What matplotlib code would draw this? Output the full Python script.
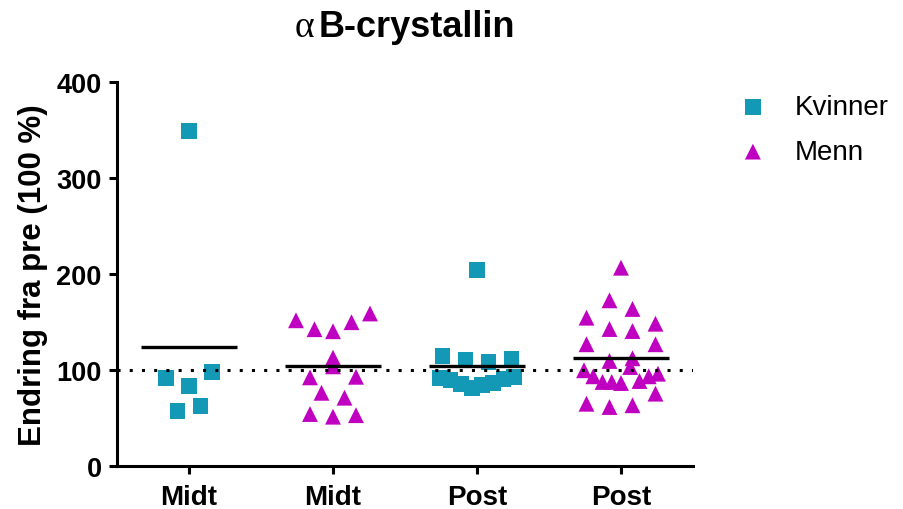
import matplotlib
matplotlib.use("Agg")
import matplotlib.pyplot as plt
import numpy as np

plt.rcParams['font.family'] = ['Liberation Sans', 'DejaVu Sans']

# values (% of pre), left to right within each row
kvinner_midt = [349.5, 91.4, 83.1, 98.3, 57.6, 62.5]
menn_midt = [151.9, 142.6, 140.5, 149.9, 159.0, 112.9, 92.4, 103.9, 93.0,
             76.3, 71.2, 54.2, 51.4, 53.0]
kvinner_post = [204.3, 114.7, 110.2, 108.7, 111.2, 92.0, 89.6, 85.2, 81.6,
                84.1, 86.2, 91.0, 93.1]
menn_post = [206.7, 172.7, 163.7, 154.6, 142.8, 140.7, 148.3, 126.9, 109.5,
             112.3, 126.9, 99.8, 93.5, 87.6, 87.6, 86.5, 103.2, 88.6, 93.5,
             96.2, 64.9, 61.5, 63.3, 75.4]

groups = [kvinner_midt, menn_midt, kvinner_post, menn_post]
kjonn = ['Kvinner', 'Menn', 'Kvinner', 'Menn']
xlabels = ['Midt', 'Midt', 'Post', 'Post']

teal = '#1399B5'
magenta = '#C000C0'
style = {'Kvinner': ('s', teal), 'Menn': ('^', magenta)}


def spread(vals, h, step, maxw):
    # prism-like scatter: bunch values into rows of height h, spread each row
    vals = np.asarray(vals)
    order = np.argsort(vals, kind='stable')
    rows = []
    for i in order:
        if rows and vals[i] - vals[rows[-1][0]] < h:
            rows[-1].append(i)
        else:
            rows.append([i])
    offs = np.zeros(len(vals))
    for row in rows:
        row = sorted(row)
        n = len(row)
        st = step
        if (n - 1) * st / 2 > maxw:
            st = 2 * maxw / (n - 1)
        for k, i in enumerate(row):
            offs[i] = (k - (n - 1) / 2) * st
    return offs


fig = plt.figure(figsize=(9.04, 5.10), dpi=100)
ax = fig.add_axes([117 / 904, 43 / 510, 576 / 904, 383.7 / 510])
ax.set_xlim(-0.5, 3.5)
ax.set_ylim(0, 400)

# pixels per category
p0 = ax.transData.transform((0, 0))
p1 = ax.transData.transform((1, 1))
px_x = p1[0] - p0[0]

done = set()
for i, vals in enumerate(groups):
    mk, col = style[kjonn[i]]
    vals = np.array(vals)
    offs = spread(vals, 19.0, 23.0, 37.0) / px_x
    lab = kjonn[i] if kjonn[i] not in done else None
    done.add(kjonn[i])
    ax.scatter(i + offs, vals, marker=mk, s=130, color=col, edgecolors='none',
               zorder=2, label=lab, clip_on=False)
    ax.hlines(vals.mean(), i - 0.333, i + 0.333, color='black', lw=2.4, zorder=3)

ax.axhline(100, color='black', lw=2.2, ls=(0, (1, 3)), zorder=3)

for s in ['top', 'right']:
    ax.spines[s].set_visible(False)
for s in ['left', 'bottom']:
    ax.spines[s].set_linewidth(2.2)

ax.set_yticks([0, 100, 200, 300, 400])
ax.set_xticks(range(4))
ax.set_xticklabels(xlabels)
ax.tick_params(width=2.2, length=6, labelsize=19.5, pad=5)
ax.tick_params(axis='x', labelsize=20, pad=7)
for t in ax.get_xticklabels() + ax.get_yticklabels():
    t.set_fontweight('bold')

ax.set_ylabel('Endring fra pre (100 %)', fontsize=22.5, fontweight='bold', labelpad=6)

ax.legend(loc='upper left', bbox_to_anchor=(739 / 904, 1 - 95 / 510),
          bbox_transform=fig.transFigure, frameon=False, fontsize=20,
          handlelength=1.0, handletextpad=1.0, labelspacing=0.68,
          borderaxespad=0, borderpad=0)

# title: greek alpha in a serif face, the rest bold sans
fig.canvas.draw()
r = fig.canvas.get_renderer()
tb = fig.text(0, 1 - 37 / 510, 'B-crystallin', fontsize=26, fontweight='bold',
              va='baseline', ha='left')
ta = fig.text(0, 1 - 37 / 510, '\u03b1', fontsize=27, family='Liberation Serif',
              va='baseline', ha='left')
wb = tb.get_window_extent(r).width
wa = ta.get_window_extent(r).width
gap = 4
start = 405 - (wa + gap + wb) / 2
ta.set_x(start / 904)
tb.set_x((start + wa + gap) / 904)

fig.savefig('out.png', dpi=100)
